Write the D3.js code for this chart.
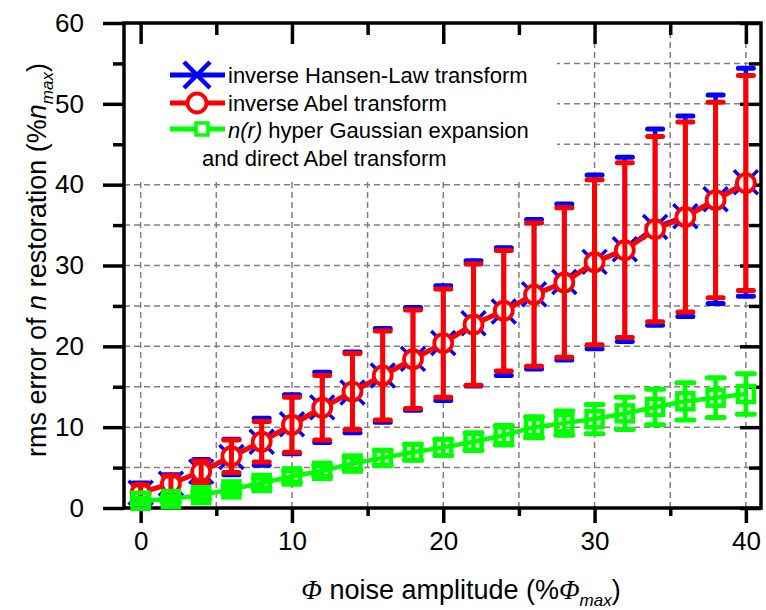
<!DOCTYPE html>
<html>
<head>
<meta charset="utf-8">
<script src="https://cdn.jsdelivr.net/npm/d3@7"></script>
<style>
  html, body { margin: 0; padding: 0; background: #fff; }
  svg { display: block; }
  text { font-family: "Liberation Sans", Arial, sans-serif; fill: #000; }
</style>
</head>
<body>
<svg id="chart" width="766" height="610"></svg>
<script>
// Noise amplitude (% of Phi max)
const noise = [0, 2, 4, 6, 8, 10, 12, 14, 16, 18, 20, 22, 24, 26, 28, 30, 32, 34, 36, 38, 40];

// inverse Hansen-Law transform: rms error and its spread
const hansenMean = [1.9, 3.0, 4.5, 6.3, 8.2, 10.35, 12.45, 14.3, 16.4, 18.45, 20.4, 22.85, 24.3, 26.45, 27.95, 30.45, 32.0, 34.75, 36.1, 38.2, 40.3];
const hansenErr  = [1.2, 1.1, 1.5, 2.2, 2.9, 3.65, 4.35, 5.0, 5.8, 6.35, 7.1, 7.75, 7.9, 9.25, 9.65, 10.75, 11.4, 12.15, 12.4, 12.9, 14.1];

// inverse Abel transform
const abelMean = [1.9, 3.0, 4.5, 6.4, 8.2, 10.3, 12.4, 14.4, 16.4, 18.4, 20.4, 22.7, 24.4, 26.4, 27.9, 30.4, 31.9, 34.5, 36.0, 38.1, 40.2];
const abelErr  = [0.95, 0.95, 1.3, 2.0, 2.5, 3.4, 4.0, 4.7, 5.5, 6.1, 6.7, 7.5, 7.45, 8.85, 9.25, 10.2, 10.8, 11.45, 11.75, 12.1, 13.3];

// n(r) hyper Gaussian expansion and direct Abel transform
const gaussMean = [0.9, 1.1, 1.6, 2.3, 3.1, 3.9, 4.6, 5.5, 6.2, 6.9, 7.5, 8.2, 9.0, 10.0, 10.5, 11.0, 11.7, 12.5, 13.2, 13.65, 14.1];
const gaussErr  = [0.3, 0.4, 0.5, 0.5, 0.6, 0.7, 0.7, 0.8, 0.9, 1.0, 1.0, 1.1, 1.2, 1.3, 1.5, 1.8, 2.0, 2.2, 2.3, 2.45, 2.5];

const xMajor = [0, 10, 20, 30, 40];
const xMinor = [5, 15, 25, 35];
const yMajor = [0, 10, 20, 30, 40, 50, 60];
const yMinor = [5, 15, 25, 35, 45, 55];
const xGrid = [0, 5, 10, 15, 20, 25, 30, 35, 40];
const yGrid = [5, 10, 15, 20, 25, 30, 35, 40, 45, 50, 55];

const BLUE = "#0000ff", RED = "#ff0000", GREEN = "#00ff00";

const svg = d3.select("#chart");
const x = d3.scaleLinear().domain([-1.1, 41]).range([124, 761]);
const y = d3.scaleLinear().domain([0, 60]).range([508, 23]);
const [x0, x1] = x.range();
const [yb, yt] = y.range();

// Dashed grid
const grid = svg.append("g").attr("stroke", "#808080").attr("stroke-width", 1.5)
  .attr("stroke-dasharray", "6,4").attr("fill", "none");
grid.selectAll(".gx").data(xGrid).join("line")
  .attr("x1", d => x(d)).attr("x2", d => x(d)).attr("y1", yb).attr("y2", yt);
grid.selectAll(".gy").data(yGrid).join("line")
  .attr("x1", x0).attr("x2", x1).attr("y1", d => y(d)).attr("y2", d => y(d));

// Legend background hides the grid behind the legend entries
svg.append("rect").attr("x", x0).attr("y", yt).attr("width", 557 - x0).attr("height", 180 - yt)
  .attr("fill", "#fff");

// Axes with outward (left/bottom) and inward (top/right) ticks
function styleAxis(g) {
  g.select(".domain").remove();
  g.selectAll(".tick line").attr("stroke", "#000").attr("stroke-width", 3.5);
  g.selectAll("text").attr("font-size", 26).attr("font-family", "Liberation Sans, Arial, sans-serif");
}
svg.append("g").attr("transform", `translate(0,${yb})`)
  .call(d3.axisBottom(x).tickValues(xMajor).tickSize(15).tickPadding(9).tickFormat(d3.format("d")))
  .call(styleAxis);
svg.append("g").attr("transform", `translate(0,${yb})`)
  .call(d3.axisBottom(x).tickValues(xMinor).tickSize(8).tickFormat(""))
  .call(styleAxis);
svg.append("g").attr("transform", `translate(0,${yt})`)
  .call(d3.axisBottom(x).tickValues(xMajor).tickSize(21).tickFormat(""))
  .call(styleAxis);
svg.append("g").attr("transform", `translate(0,${yt})`)
  .call(d3.axisBottom(x).tickValues(xMinor).tickSize(12).tickFormat(""))
  .call(styleAxis);
svg.append("g").attr("transform", `translate(${x0},0)`)
  .call(d3.axisLeft(y).tickValues(yMajor).tickSize(21).tickPadding(19).tickFormat(d3.format("d")))
  .call(styleAxis);
svg.append("g").attr("transform", `translate(${x0},0)`)
  .call(d3.axisLeft(y).tickValues(yMinor).tickSize(11).tickFormat(""))
  .call(styleAxis);
svg.append("g").attr("transform", `translate(${x1},0)`)
  .call(d3.axisLeft(y).tickValues(yMajor).tickSize(21).tickFormat(""))
  .call(styleAxis);
svg.append("g").attr("transform", `translate(${x1},0)`)
  .call(d3.axisLeft(y).tickValues(yMinor).tickSize(12).tickFormat(""))
  .call(styleAxis);

// Frame
svg.append("rect").attr("x", x0).attr("y", yt).attr("width", x1 - x0).attr("height", yb - yt)
  .attr("fill", "none").attr("stroke", "#000").attr("stroke-width", 3.5);

const plot = svg.append("g");

function series(mean, err) {
  return noise.map((n, i) => ({ n, m: mean[i], e: err[i] }));
}
const line = d3.line().x(d => x(d.n)).y(d => y(d.m));

function errorBars(g, data, color, barW, capW, capH) {
  const eb = g.append("g").attr("stroke", color).attr("stroke-linecap", "round");
  eb.selectAll(".v").data(data).join("line")
    .attr("stroke-width", barW)
    .attr("x1", d => x(d.n)).attr("x2", d => x(d.n))
    .attr("y1", d => y(d.m - d.e)).attr("y2", d => y(d.m + d.e));
  eb.selectAll(".c").data(data.flatMap(d => [{ n: d.n, v: d.m - d.e }, { n: d.n, v: d.m + d.e }]))
    .join("line")
    .attr("stroke-width", capH)
    .attr("x1", d => x(d.n) - capW / 2).attr("x2", d => x(d.n) + capW / 2)
    .attr("y1", d => y(d.v)).attr("y2", d => y(d.v));
}

function crossPath(cx, cy, r) {
  return `M${cx - r},${cy - r}L${cx + r},${cy + r}M${cx - r},${cy + r}L${cx + r},${cy - r}`;
}

// inverse Hansen-Law (blue, drawn underneath)
const hansen = series(hansenMean, hansenErr);
plot.append("path").datum(hansen).attr("d", line).attr("fill", "none")
  .attr("stroke", BLUE).attr("stroke-width", 4);
errorBars(plot, hansen, BLUE, 4.5, 15, 5);
plot.append("g").selectAll("path").data(hansen).join("path")
  .attr("d", d => crossPath(x(d.n), y(d.m), 12))
  .attr("stroke", BLUE).attr("stroke-width", 3.5).attr("fill", "none");

// inverse Abel (red)
const abel = series(abelMean, abelErr);
plot.append("path").datum(abel).attr("d", line).attr("fill", "none")
  .attr("stroke", RED).attr("stroke-width", 5);
plot.append("g").selectAll("circle").data(abel).join("circle")
  .attr("cx", d => x(d.n)).attr("cy", d => y(d.m)).attr("r", 9)
  .attr("fill", "#fff").attr("stroke", RED).attr("stroke-width", 3.8);
errorBars(plot, abel, RED, 5, 15, 5);

// hyper Gaussian expansion (green)
const gauss = series(gaussMean, gaussErr);
plot.append("path").datum(gauss).attr("d", line).attr("fill", "none")
  .attr("stroke", GREEN).attr("stroke-width", 4.5);
plot.append("g").selectAll("rect").data(gauss).join("rect")
  .attr("x", d => x(d.n) - 8).attr("y", d => y(d.m) - 8).attr("width", 16).attr("height", 16)
  .attr("fill", "none").attr("stroke", GREEN).attr("stroke-width", 4.5);
errorBars(plot, gauss, GREEN, 4.5, 17, 5);

// Legend
const lg = svg.append("g");
const legendRows = [
  { color: BLUE, cy: 75, marker: "x" },
  { color: RED, cy: 103, marker: "o" },
  { color: GREEN, cy: 129, marker: "s" }
];
legendRows.forEach(r => {
  lg.append("line").attr("x1", 170).attr("x2", 225).attr("y1", r.cy).attr("y2", r.cy)
    .attr("stroke", r.color).attr("stroke-width", 5);
  if (r.marker === "x") {
    lg.append("path").attr("d", crossPath(197, r.cy, 13)).attr("stroke", r.color)
      .attr("stroke-width", 4.5).attr("fill", "none");
  } else if (r.marker === "o") {
    lg.append("circle").attr("cx", 197).attr("cy", r.cy).attr("r", 9.5)
      .attr("fill", "#fff").attr("stroke", r.color).attr("stroke-width", 3.8);
  } else {
    lg.append("rect").attr("x", 196).attr("y", r.cy - 6).attr("width", 12).attr("height", 12)
      .attr("fill", "#fff").attr("stroke", r.color).attr("stroke-width", 3.5);
  }
});
const lt = lg.append("g").attr("font-size", 22);
lt.append("text").attr("x", 228).attr("y", 83).text("inverse Hansen-Law transform");
lt.append("text").attr("x", 228).attr("y", 111).text("inverse Abel transform");
const t3 = lt.append("text").attr("x", 228).attr("y", 138);
t3.append("tspan").attr("font-style", "italic").text("n(r)");
t3.append("tspan").text(" hyper Gaussian expansion");
lt.append("text").attr("x", 202).attr("y", 166).text("and direct Abel transform");

// Axis titles
const xt = svg.append("text").attr("x", 461).attr("y", 599).attr("text-anchor", "middle")
  .attr("font-size", 27);
xt.append("tspan").attr("font-family", "Liberation Serif, serif").attr("font-style", "italic").text("Φ");
xt.append("tspan").text(" noise amplitude (%");
xt.append("tspan").attr("font-family", "Liberation Serif, serif").attr("font-style", "italic").text("Φ");
xt.append("tspan").attr("font-size", 17).attr("font-style", "italic").attr("dy", 7).text("max");
xt.append("tspan").attr("dy", -7).text(")");

const yl = svg.append("text").attr("transform", "translate(46,260) rotate(-90)")
  .attr("text-anchor", "middle").attr("font-size", 27);
yl.append("tspan").text("rms error of ");
yl.append("tspan").attr("font-style", "italic").text(" n");
yl.append("tspan").text(" restoration (%");
yl.append("tspan").attr("font-style", "italic").text("n");
yl.append("tspan").attr("font-size", 17).attr("font-style", "italic").attr("dy", 7).text("max");
yl.append("tspan").attr("dy", -7).text(")");
</script>
</body>
</html>
